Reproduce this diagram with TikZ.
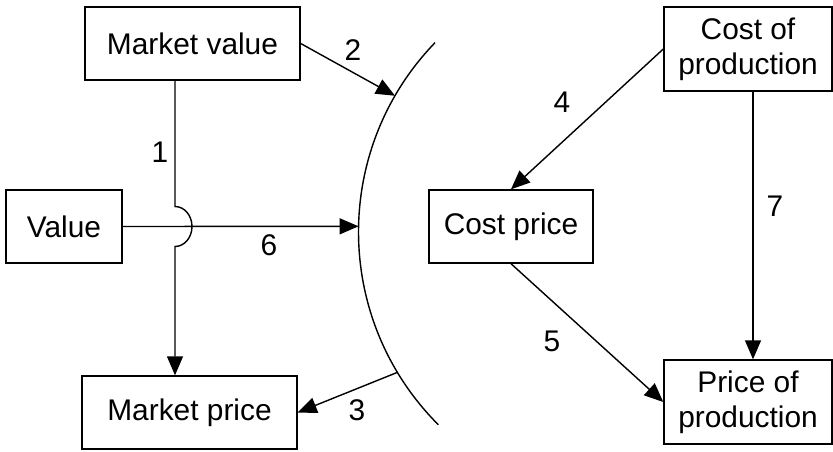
\documentclass[tikz,border=0pt]{standalone}
\usepackage{fontspec}
\setmainfont{Liberation Sans}
\usetikzlibrary{arrows.meta}
\tikzset{
	box/.style={draw, align=center, minimum height=1.46cm, inner sep=2pt},
	arr/.style={-{Triangle[length=3.8mm,width=3.2mm]}}
}
\begin{document}
\begin{tikzpicture}[line width=0.8pt, font=\fontsize{17}{20}\selectfont]
	\useasboundingbox (0,0) rectangle (16.66,9.02);
	\node[box, minimum width=4.3cm] (mv) at (3.85,8.15) {Market value};
	\node[box, minimum width=2.32cm] (val) at (1.28,4.49) {Value};
	\node[box, minimum width=4.3cm] (mp) at (3.79,0.77) {Market price};
	\node[box, minimum width=3.36cm, minimum height=1.68cm] (cop) at (14.96,8.04) {Cost of\\production};
	\node[box, minimum width=3.28cm] (cp) at (10.22,4.49) {Cost price};
	\node[box, minimum width=3.36cm, minimum height=1.68cm] (pop) at (14.96,0.98) {Price of\\production};
	% the market curve
	\coordinate (ctr) at (12.62,4.38);
	\draw (ctr) ++(136:5.45) arc[start angle=136, end angle=225, radius=5.45];
	\path (ctr) ++(150:5.45) coordinate (m2);
	\path (ctr) ++(211:5.45) coordinate (m3);
	\path (ctr) ++(178.8:5.45) coordinate (m6);
	% left side
	\coordinate (j) at (3.5,4.49);
	\draw[arr] (mv.south -| j) -- ([yshift=0.4cm]j)
		arc[start angle=90, end angle=-90, x radius=0.34cm, y radius=0.4cm] -- (mp.north -| j);
	\draw[arr] (val.east) -- (m6);
	\draw[arr] (mv.east) -- (m2);
	\draw[arr] (m3) -- (mp.east);
	% right side
	\draw[arr] (cop.west) -- (cp.north);
	\draw[arr] (cp.south) -- (pop.west);
	\draw[arr] ([xshift=0.1cm]cop.south) -- ([xshift=0.1cm]pop.north);
	\foreach \n/\x/\y in {1/3.2/5.98, 2/7.06/8.02, 3/7.14/0.82, 4/11.24/6.98,
		5/11.04/2.2, 6/5.38/4.12, 7/15.5/4.9}
	\node (n\n) at (\x,\y) {\n};
\end{tikzpicture}
\end{document}
